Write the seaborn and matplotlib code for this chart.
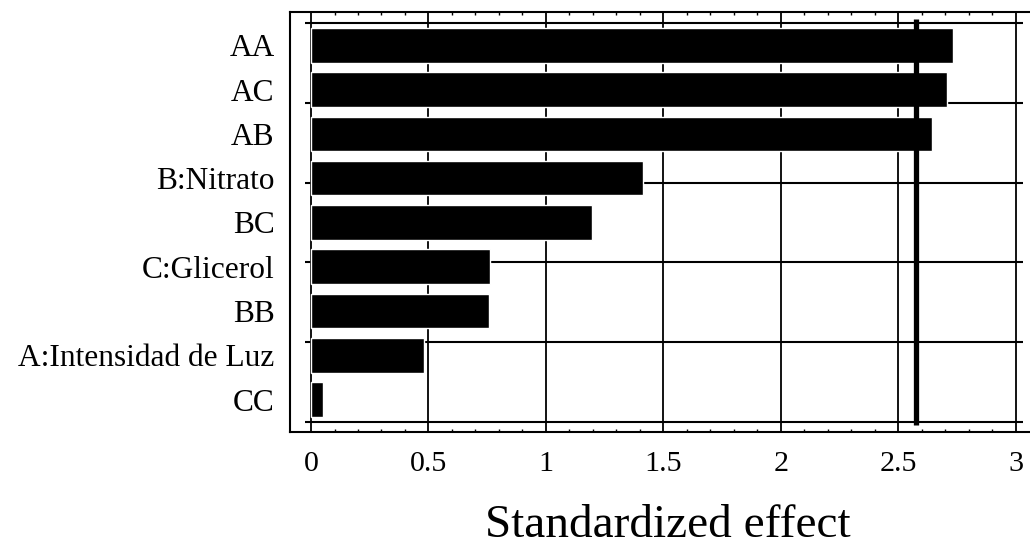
import numpy as np
import pandas as pd
import matplotlib
matplotlib.use("Agg")
import matplotlib.pyplot as plt
from matplotlib.ticker import MultipleLocator
import seaborn as sns

# Pareto chart of standardized effects
terms = ["AA", "AC", "AB", "B:Nitrato", "BC", "C:Glicerol", "BB",
         "A:Intensidad de Luz", "CC"]
effects = [2.731, 2.707, 2.643, 1.413, 1.197, 0.761, 0.756, 0.479, 0.051]
threshold = 2.576
x_ticks = [0, 0.5, 1, 1.5, 2, 2.5, 3]
x_tick_labels = ["0", "0.5", "1", "1.5", "2", "2.5", "3"]

sns.set_theme(style="white")
plt.rcParams["font.family"] = ["Liberation Serif", "DejaVu Serif"]

df = pd.DataFrame({"term": terms, "effect": effects})

fig = plt.figure(figsize=(10.30, 5.45), dpi=100)
ax = fig.add_axes([290 / 1030, 113 / 545, 740 / 1030, 420 / 545])

sns.barplot(data=df, x="effect", y="term", orient="h", color="black",
            saturation=1, width=0.78, ax=ax, zorder=3)

x_left, x_right = -0.0894, 3.06
y_top, y_bottom = -0.75, 8.73
n = len(terms)

# vertical grid at the major ticks
for xv in x_ticks:
    ax.vlines(xv, y_top, y_bottom, color="black", lw=1.3, zorder=1)

# horizontal grid: five equal intervals across the category band
for yv in np.linspace(-0.5, n - 0.5, 6):
    ax.hlines(yv, -0.025, 3.03, color="black", lw=1.5, zorder=1)

# significance threshold
ax.vlines(threshold, -0.6, n - 0.43, color="black", lw=3.8, zorder=4)

ax.set_xlim(x_left, x_right)
ax.set_ylim(y_bottom, y_top)

ax.set_xticks(x_ticks)
ax.set_xticklabels(x_tick_labels)
ax.xaxis.set_minor_locator(MultipleLocator(0.1))
ax.tick_params(axis="x", which="major", length=0, pad=14, labelsize=21.6,
               colors="black")
ax.tick_params(axis="x", which="minor", direction="in", length=2.5,
               width=1.0, color="black", bottom=True, top=True)
ax.tick_params(axis="y", which="major", length=0, pad=11, labelsize=22.6,
               colors="black")

ax.set_ylabel("")
ax.set_xlabel("Standardized effect", fontsize=34, color="black")
ax.xaxis.set_label_coords(0.511, -0.172)

for side in ["left", "top", "bottom"]:
    ax.spines[side].set_visible(True)
    ax.spines[side].set_color("black")
    ax.spines[side].set_linewidth(1.5)
ax.spines["right"].set_visible(False)

fig.savefig("out.png", dpi=100, facecolor="white")
